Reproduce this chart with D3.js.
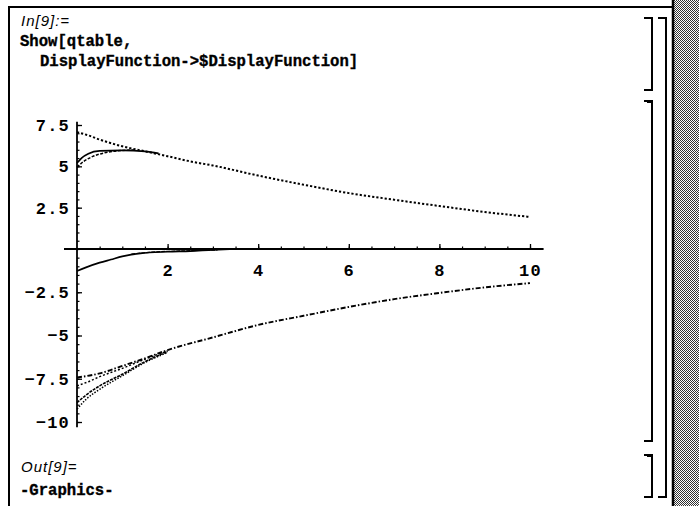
<!DOCTYPE html>
<html>
<head>
<meta charset="utf-8">
<script src="https://cdn.jsdelivr.net/npm/d3@7"></script>
<style>
  html, body { margin: 0; padding: 0; background: #fff; }
  svg { display: block; }
</style>
</head>
<body>
<svg id="chart" width="699" height="506"></svg>
<script>
// ---- Data ----
const xTicks = [2, 4, 6, 8, 10];
const yTicks = [-10, -7.5, -5, -2.5, 2.5, 5, 7.5];
const xMinor = d3.range(0.5, 10.01, 0.5);
const yMinor = d3.range(-10, 7.51, 0.5);

const upperMain   = [[0,7.07],[0.25,6.87],[0.5,6.62],[1,6.21],[1.5,5.91],[2,5.61],[2.5,5.3],[3,5.05],[4,4.44],[5,3.89],[6,3.38],[7,2.98],[8,2.6],[9,2.24],[10,1.94]];
const upperSolid  = [[0,5.2],[0.1,5.5],[0.25,5.76],[0.5,5.93],[1,5.96],[1.5,5.91],[1.8,5.78]];
const upperDashed = [[0,4.95],[0.15,5.3],[0.35,5.6],[0.6,5.81],[1,5.96],[1.3,5.99]];
const nearZero    = [[0,-1.27],[0.2,-1.06],[0.5,-0.79],[0.75,-0.61],[1,-0.43],[1.4,-0.25],[2,-0.16],[2.5,-0.12],[3,-0.05],[3.5,0]];
const nearZero2   = [[1.2,-0.29],[1.6,-0.19],[2.2,-0.12],[3.1,-0.06]];
const lowerMain   = [[0,-7.43],[0.5,-7.19],[1,-6.76],[1.5,-6.32],[2,-5.84],[3,-5.11],[4,-4.39],[5,-3.86],[6,-3.35],[7,-2.9],[8,-2.54],[9,-2.22],[10,-1.97]];
const lowerB      = [[0,-7.91],[0.25,-7.67],[0.5,-7.38],[1,-6.9],[1.5,-6.37],[2,-5.89]];
const lowerC      = [[0,-8.88],[0.2,-8.44],[0.5,-7.91],[1,-7.24],[1.5,-6.51],[2,-5.93]];
const lowerD      = [[0,-9.26],[0.2,-8.69],[0.5,-8.11],[1,-7.33],[1.5,-6.56],[2,-5.98]];

// ---- Layout ----
const svg = d3.select("#chart");
const x = d3.scaleLinear().domain([0, 10]).range([77, 530]);
const y = d3.scaleLinear().domain([-10, 0, 7.5]).range([422, 249, 125]);

// notebook frame
svg.append("line").attr("x1", 9).attr("x2", 673).attr("y1", 7).attr("y2", 7)
  .attr("stroke", "#000").attr("stroke-width", 2);
svg.append("line").attr("x1", 9).attr("x2", 9).attr("y1", 6).attr("y2", 506)
  .attr("stroke", "#000").attr("stroke-width", 2);

// scrollbar hatch
const defs = svg.append("defs");
const pat = defs.append("pattern").attr("id", "hatch").attr("width", 2).attr("height", 2)
  .attr("patternUnits", "userSpaceOnUse");
pat.append("rect").attr("width", 2).attr("height", 2).attr("fill", "#fff");
pat.append("rect").attr("x", 0).attr("y", 0).attr("width", 1).attr("height", 1).attr("fill", "#333");
pat.append("rect").attr("x", 1).attr("y", 1).attr("width", 1).attr("height", 1).attr("fill", "#333");
svg.append("rect").attr("x", 673).attr("y", 0).attr("width", 26).attr("height", 506).attr("fill", "url(#hatch)");
svg.append("line").attr("x1", 673).attr("x2", 673).attr("y1", 0).attr("y2", 506)
  .attr("stroke", "#000").attr("stroke-width", 2.5);

// cell brackets
function bracket(xr, y0, y1, hook, flag) {
  const p = d3.path();
  p.moveTo(xr - hook, y0); p.lineTo(xr, y0); p.lineTo(xr, y1); p.lineTo(xr - hook, y1);
  svg.append("path").attr("d", p.toString()).attr("fill", "none")
    .attr("stroke", "#000").attr("stroke-width", 2);
  if (flag) {
    svg.append("rect").attr("x", xr - 5).attr("y", y0 - 1).attr("width", 5).attr("height", 3).attr("fill", "#000");
  }
}
bracket(652, 18, 90, 8, false);
bracket(652, 101, 441, 8, true);
bracket(652, 455, 497, 8, true);
bracket(666, 18, 497, 8, false);

// input / output text
const sans = "Liberation Sans, Arial, sans-serif";
const mono = "Liberation Mono, Courier New, monospace";
svg.append("text").attr("x", 21).attr("y", 26).text("In[9]:=")
  .attr("font-family", sans).attr("font-style", "italic")
  .attr("font-size", 15).attr("letter-spacing", 1);
svg.append("text").attr("x", 20).attr("y", 46).text("Show[qtable,")
  .attr("font-family", mono).attr("font-weight", "bold").attr("font-size", 15.6)
  .attr("stroke", "#000").attr("stroke-width", 0.35);
svg.append("text").attr("x", 40).attr("y", 66).text("DisplayFunction->$DisplayFunction]")
  .attr("font-family", mono).attr("font-weight", "bold").attr("font-size", 15.6)
  .attr("stroke", "#000").attr("stroke-width", 0.35);
svg.append("text").attr("x", 21).attr("y", 472).text("Out[9]=")
  .attr("font-family", sans).attr("font-style", "italic")
  .attr("font-size", 15).attr("letter-spacing", 1);
svg.append("text").attr("x", 20).attr("y", 495).text("-Graphics-")
  .attr("font-family", mono).attr("font-weight", "bold").attr("font-size", 15.6)
  .attr("stroke", "#000").attr("stroke-width", 0.35);

// axes
const axisFont = g => g.selectAll("text")
  .attr("font-family", mono).attr("font-weight", "bold").attr("font-size", 17)
  .attr("letter-spacing", 1.2).attr("fill", "#000");

const gx = svg.append("g").attr("transform", `translate(0,${y(0)})`);
gx.call(d3.axisBottom(x).tickValues(xTicks).tickSize(-5).tickPadding(15)
  .tickFormat(d3.format("d")));
gx.select(".domain").remove();
gx.selectAll("line").attr("stroke", "#000").attr("stroke-width", 1.3);
axisFont(gx);
const gxm = svg.append("g").attr("transform", `translate(0,${y(0)})`);
gxm.call(d3.axisBottom(x).tickValues(xMinor).tickSize(-2.5).tickFormat(""));
gxm.select(".domain").remove();
gxm.selectAll("line").attr("stroke", "#000").attr("stroke-width", 1.2);
svg.append("line").attr("x1", 64).attr("x2", x(10.3)).attr("y1", y(0)).attr("y2", y(0))
  .attr("stroke", "#000").attr("stroke-width", 1.8);

const gy = svg.append("g").attr("transform", `translate(${x(0)},0)`);
gy.call(d3.axisLeft(y).tickValues(yTicks).tickSize(-5).tickPadding(7)
  .tickFormat(d => d3.format("")(d)));
gy.select(".domain").remove();
gy.selectAll("line").attr("stroke", "#000").attr("stroke-width", 1.3);
axisFont(gy);
const gym = svg.append("g").attr("transform", `translate(${x(0)},0)`);
gym.call(d3.axisLeft(y).tickValues(yMinor).tickSize(-2.5).tickFormat(""));
gym.select(".domain").remove();
gym.selectAll("line").attr("stroke", "#000").attr("stroke-width", 1.2);
svg.append("line").attr("x1", x(0)).attr("x2", x(0)).attr("y1", y(7.7)).attr("y2", y(-10.3))
  .attr("stroke", "#000").attr("stroke-width", 1.8);

// curves
const line = d3.line().x(d => x(d[0])).y(d => y(d[1])).curve(d3.curveMonotoneX);
const curves = [
  { data: upperMain,   dash: "2.2,2",     w: 2.0 },
  { data: upperSolid,  dash: null,        w: 1.7 },
  { data: upperDashed, dash: "3,1.5",     w: 1.5 },
  { data: nearZero,    dash: null,        w: 1.7 },
  { data: nearZero2,   dash: "4,1",       w: 1.2 },
  { data: lowerMain,   dash: "5,2,1.5,2", w: 1.9 },
  { data: lowerB,      dash: "2,2",       w: 1.5 },
  { data: lowerC,      dash: "3,1",       w: 1.6 },
  { data: lowerD,      dash: "1.5,1.5",   w: 1.5 }
];
svg.append("g").selectAll("path").data(curves).join("path")
  .attr("d", d => line(d.data))
  .attr("fill", "none").attr("stroke", "#000")
  .attr("stroke-width", d => d.w)
  .attr("stroke-dasharray", d => d.dash);
</script>
</body>
</html>
